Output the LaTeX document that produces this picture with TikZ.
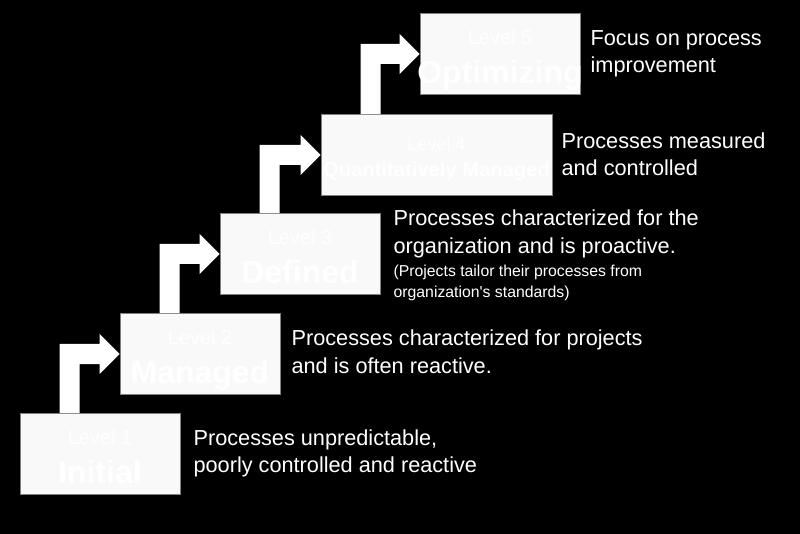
\documentclass[tikz,border=0pt]{standalone}
\usepackage{fontspec}
\setmainfont{Liberation Sans}
\usetikzlibrary{calc}
\definecolor{boxfill}{HTML}{F9F9F9}
\definecolor{boxline}{HTML}{808080}

\begin{document}
\begin{tikzpicture}[x=1pt,y=-1pt,
  lvlbox/.style={draw=boxline,fill=boxfill,line width=0.8pt,inner sep=0pt,minimum width=160pt,minimum height=81pt},
  lvlno/.style={text=white,font=\fontsize{20}{24}\selectfont,anchor=base,inner sep=0pt},
  lvlname/.style={text=white,font=\fontsize{32}{38}\selectfont\bfseries,anchor=base,inner sep=0pt},
  desc/.style={text=white,font=\fontsize{21.7}{27.5}\selectfont,align=left,anchor=base west,inner sep=0pt},
  note/.style={text=white,font=\fontsize{15.8}{21}\selectfont,align=left,anchor=base west,inner sep=0pt},
  stair/.style={fill=white}]
\fill[black] (0,0) rectangle (800,534);
\useasboundingbox (0,0) rectangle (800,534);

\node[lvlbox] (l1) at (100,454) {};
\node[lvlbox] (l2) at (200,354) {};
\node[lvlbox] (l3) at (300,254) {};
\node[lvlbox,minimum width=231pt] (l4) at (436.5,155) {};
\node[lvlbox] (l5) at (500,54) {};

\node[lvlno] (n1) at ($(l1.north)+(0,31)$) {Level 1};
\node[lvlname] (t1) at ($(l1.north)+(0,70)$) {Initial};
\node[lvlno] (n2) at ($(l2.north)+(0,31)$) {Level 2};
\node[lvlname] (t2) at ($(l2.north)+(0,70)$) {Managed};
\node[lvlno] (n3) at ($(l3.north)+(0,31)$) {Level 3};
\node[lvlname] (t3) at ($(l3.north)+(0,70)$) {Defined};
\node[lvlno,font=\fontsize{18}{22}\selectfont] (n4) at ($(l4.north)+(0,36)$) {Level 4};
\node[lvlname,font=\fontsize{20.2}{24}\selectfont\bfseries] (t4) at ($(l4.north)+(0,62)$) {Quantitatively Managed};
\node[lvlno] (n5) at ($(l5.north)+(0,31)$) {Level 5};
\node[lvlname] (t5) at ($(l5.north)+(0,70)$) {Optimizing};

\fill[stair] ($(l1.north west)+(40,0)$) |- ($(l2.west)+(-20,-10)$) -- ++(0,-10) -- (l2.west) -- ++(-20,20) -- ++(0,-10) -| ($(l1.north west)+(60,0)$) -- cycle;
\fill[stair] ($(l2.north west)+(40,0)$) |- ($(l3.west)+(-20,-10)$) -- ++(0,-10) -- (l3.west) -- ++(-20,20) -- ++(0,-10) -| ($(l2.north west)+(60,0)$) -- cycle;
\fill[stair] ($(l3.north west)+(40,0)$) |- ($(l4.west)+(-20,-10)$) -- ++(0,-10) -- (l4.west) -- ++(-20,20) -- ++(0,-10) -| ($(l3.north west)+(60,0)$) -- cycle;
\fill[stair] ($(l4.north west)+(40,0)$) |- ($(l5.west)+(-20,-10)$) -- ++(0,-10) -- (l5.west) -- ++(-20,20) -- ++(0,-10) -| ($(l4.north west)+(60,0)$) -- cycle;

\node[desc] (d1) at ($(l1.north east)+(13,59.5)$) {Processes unpredictable,\\poorly controlled and reactive};
\node[desc] (d2) at ($(l2.north east)+(11,60)$) {Processes characterized for projects\\and is often reactive.};
\node[desc] (d3) at ($(l3.north east)+(13,40)$) {Processes characterized for the\\organization and is proactive.};
\node[note] (d3b) at ($(l3.north east)+(13,84)$) {(Projects tailor their processes from\\organization\textquotesingle s standards)};
\node[desc] (d4) at ($(l4.north east)+(9,61.5)$) {Processes measured\\and controlled};
\node[desc] (d5) at ($(l5.north east)+(10,59.5)$) {Focus on process\\improvement};
\end{tikzpicture}
\end{document}
